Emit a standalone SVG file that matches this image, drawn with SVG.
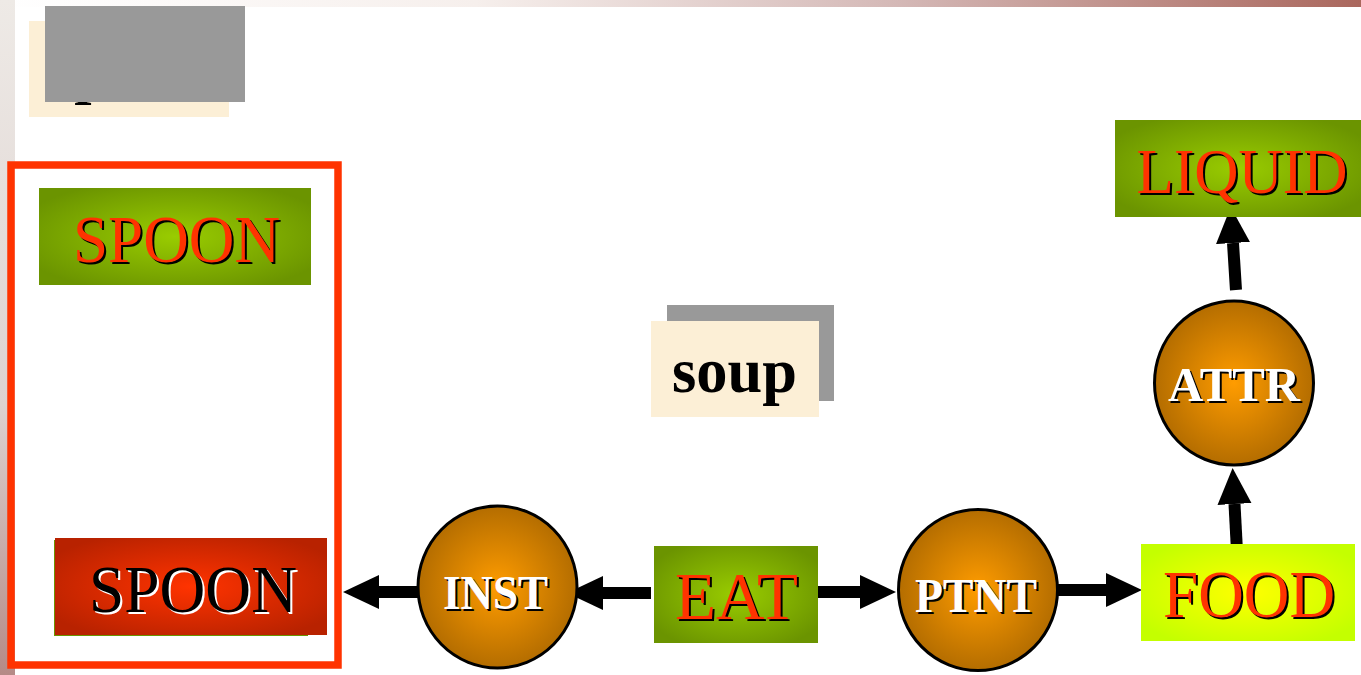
<svg xmlns="http://www.w3.org/2000/svg" xmlns:xlink="http://www.w3.org/1999/xlink" width="1361" height="675" viewBox="0 0 1361 675">
  <defs>
    <linearGradient id="topBand" x1="0" y1="0" x2="1" y2="0">
      <stop offset="0" stop-color="#ffffff"/>
      <stop offset="0.35" stop-color="#f6efec"/>
      <stop offset="0.66" stop-color="#d4b8b6"/>
      <stop offset="1" stop-color="#aa675d"/>
    </linearGradient>
    <linearGradient id="sideBand" x1="0" y1="0" x2="0" y2="1">
      <stop offset="0" stop-color="#eeeae6"/>
      <stop offset="0.6" stop-color="#ddd2d0"/>
      <stop offset="1" stop-color="#b58a86"/>
    </linearGradient>
    <radialGradient id="green" cx="0.5" cy="0.5" r="0.6">
      <stop offset="0" stop-color="#99cc00"/>
      <stop offset="1" stop-color="#6b9400"/>
    </radialGradient>
    <radialGradient id="red" cx="0.5" cy="0.5" r="0.6">
      <stop offset="0" stop-color="#ff3300"/>
      <stop offset="1" stop-color="#b82200"/>
    </radialGradient>
    <radialGradient id="yellow" cx="0.5" cy="0.5" r="0.6">
      <stop offset="0" stop-color="#ffff00"/>
      <stop offset="1" stop-color="#c4ff00"/>
    </radialGradient>
    <radialGradient id="orange" cx="0.5" cy="0.5" r="0.5">
      <stop offset="0" stop-color="#ff9c00"/>
      <stop offset="1" stop-color="#b46d00"/>
    </radialGradient>
    <marker id="head" markerUnits="userSpaceOnUse" markerWidth="38" markerHeight="36" refX="0" refY="17" orient="auto">
      <path d="M0,0 L36,17 L0,34 z" fill="#000"/>
    </marker>
    <style>
      .serif { font-family: "Liberation Serif", "Times New Roman", serif; }
      .big { font-size: 68px; text-anchor: middle; }
      .rel { font-size: 49px; font-weight: bold; text-anchor: middle; }
      .word { font-size: 62px; font-weight: bold; }
      .redText { fill: #ff3300; }
      .blackText { fill: #000; }
      .whiteText { fill: #fff; }
      .circle { fill: url(#orange); stroke: #000; stroke-width: 3; }
      .edge { stroke: #000; stroke-width: 12; fill: none; marker-end: url(#head); }
      .paper { fill: #fcefd6; }
      .gray { fill: #999999; }
    </style>
  </defs>

  <!-- background and slide border bands -->
  <rect x="0" y="0" width="1361" height="675" fill="#ffffff"/>
  <rect x="0" y="0" width="1361" height="7" fill="url(#topBand)"/>
  <rect x="0" y="0" width="15" height="675" fill="url(#sideBand)"/>

  <!-- word card top-left (covered by grey card) -->
  <g id="card-spoon">
    <rect class="paper" x="29" y="21" width="200" height="96"/>
    <text class="serif word blackText" x="50" y="92">spoon</text>
    <rect class="gray" x="45" y="6" width="200" height="96"/>
  </g>

  <!-- word card: soup -->
  <g id="card-soup">
    <rect class="gray" x="667" y="305" width="167" height="96"/>
    <rect class="paper" x="651" y="321" width="168" height="96"/>
    <text class="serif word blackText" x="734.5" y="392" text-anchor="middle" style="font-size:64px" textLength="125" lengthAdjust="spacingAndGlyphs">soup</text>
  </g>

  <!-- highlight frame -->
  <g id="frame">
    <rect x="11" y="165" width="327" height="500" fill="none" stroke="#ff3300" stroke-width="7.5"/>
  </g>

  <!-- connectors -->
  <g id="connectors">
    <line class="edge" x1="651" y1="593" x2="603" y2="593"/>
    <line class="edge" x1="419" y1="592" x2="379" y2="592"/>
    <line class="edge" x1="817" y1="592" x2="860" y2="592"/>
    <line class="edge" x1="1056" y1="590" x2="1106" y2="590"/>
    <line class="edge" x1="1237" y1="551" x2="1234.5" y2="504"/>
    <line class="edge" x1="1236" y1="290" x2="1233" y2="243"/>
  </g>

  <g id="node-spoon-top">
    <rect x="39" y="188" width="272" height="97" fill="url(#green)"/>
    <text class="serif big blackText" x="178.5" y="264" textLength="207" lengthAdjust="spacingAndGlyphs">SPOON</text>
    <text class="serif big redText" x="176.5" y="262" textLength="207" lengthAdjust="spacingAndGlyphs">SPOON</text>
  </g>

  <g id="node-spoon-bottom">
    <rect x="54" y="540" width="254" height="96" fill="#6b9400"/>
    <rect x="55" y="538" width="272" height="97" fill="url(#red)"/>
    <text class="serif big whiteText" x="195" y="614" textLength="208" lengthAdjust="spacingAndGlyphs">SPOON</text>
    <text class="serif big blackText" x="193" y="612" textLength="208" lengthAdjust="spacingAndGlyphs">SPOON</text>
  </g>

  <g id="node-inst">
    <ellipse class="circle" cx="497.5" cy="587" rx="79.5" ry="81"/>
    <text class="serif rel blackText" x="497.5" y="611" textLength="105" lengthAdjust="spacingAndGlyphs">INST</text>
    <text class="serif rel whiteText" x="495.5" y="609" textLength="105" lengthAdjust="spacingAndGlyphs">INST</text>
  </g>

  <g id="node-eat">
    <rect x="654" y="546" width="164" height="97" fill="url(#green)"/>
    <text class="serif big blackText" x="738.5" y="621" textLength="123" lengthAdjust="spacingAndGlyphs">EAT</text>
    <text class="serif big redText" x="736.5" y="619" textLength="123" lengthAdjust="spacingAndGlyphs">EAT</text>
  </g>

  <g id="node-ptnt">
    <ellipse class="circle" cx="978" cy="590" rx="79.5" ry="80.5"/>
    <text class="serif rel blackText" x="978" y="614" textLength="122" lengthAdjust="spacingAndGlyphs">PTNT</text>
    <text class="serif rel whiteText" x="976" y="612" textLength="122" lengthAdjust="spacingAndGlyphs">PTNT</text>
  </g>

  <g id="node-food">
    <rect x="1141" y="544" width="214" height="97" fill="url(#yellow)"/>
    <text class="serif big blackText" x="1251" y="619" textLength="172" lengthAdjust="spacingAndGlyphs">FOOD</text>
    <text class="serif big redText" x="1249" y="617" textLength="172" lengthAdjust="spacingAndGlyphs">FOOD</text>
  </g>

  <g id="node-attr">
    <ellipse class="circle" cx="1234" cy="383" rx="79.5" ry="82"/>
    <text class="serif rel blackText" x="1236" y="403" textLength="132" lengthAdjust="spacingAndGlyphs">ATTR</text>
    <text class="serif rel whiteText" x="1234" y="401" textLength="132" lengthAdjust="spacingAndGlyphs">ATTR</text>
  </g>

  <g id="node-liquid">
    <rect x="1115" y="120" width="246" height="97" fill="url(#green)"/>
    <text class="serif big blackText" x="1244" y="195" style="font-size:64px" textLength="211" lengthAdjust="spacingAndGlyphs">LIQUID</text>
    <text class="serif big redText" x="1242" y="193" style="font-size:64px" textLength="211" lengthAdjust="spacingAndGlyphs">LIQUID</text>
  </g>
</svg>
